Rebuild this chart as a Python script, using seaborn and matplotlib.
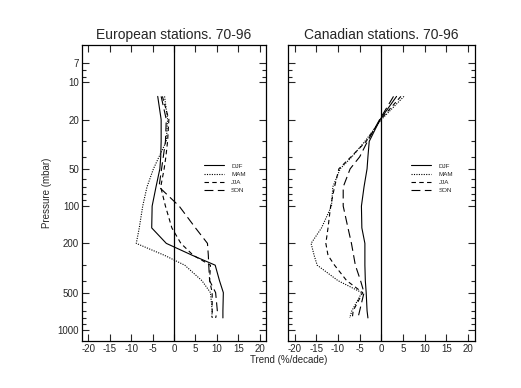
import matplotlib
matplotlib.use("Agg")
import matplotlib.pyplot as plt
import matplotlib.ticker as mticker
import numpy as np
import pandas as pd
import seaborn as sns

# pressure levels (mbar) shared by all profiles
pressure = [13, 20, 30, 40, 50, 70, 100, 150, 200, 250, 300, 400, 500, 700, 800]
seasons = ['DJF', 'MAM', 'JJA', 'SON']

# European stations, trend in %/decade
eu_djf = [-3.8, -3.0, -3.0, -3.1, -3.3, -4.2, -5.1, -5.2, -1.8, 4.3, 9.6, 10.6, 11.5, 11.4, 11.4]
eu_mam = [-2.2, -1.5, -1.8, -3.5, -4.8, -6.3, -7.3, -8.1, -8.8, -2.2, 2.5, 6.5, 8.5, 8.9, 8.8]
eu_jja = [-2.7, -1.2, -1.5, -1.9, -2.3, -3.1, -2.0, -0.5, 1.6, 4.5, 8.5, 8.3, 8.9, 8.9, 8.9]
eu_son = [-3.0, -1.8, -2.0, -2.5, -2.9, -3.5, 1.2, 5.0, 7.8, 8.0, 8.1, 8.3, 9.7, 10.1, 9.7]

# Canadian stations
ca_djf = [3.5, -0.3, -2.8, -3.1, -3.3, -4.0, -4.6, -4.5, -3.8, -3.8, -3.8, -3.7, -3.5, -3.3, -3.1]
ca_mam = [5.2, 0.0, -3.8, -6.8, -9.5, -11.2, -11.5, -13.8, -16.2, -15.5, -14.8, -10.0, -4.5, -6.8, -7.3]
ca_jja = [4.5, -0.2, -3.5, -7.0, -9.8, -10.8, -11.7, -12.3, -12.8, -12.3, -10.8, -8.0, -4.3, -6.5, -6.7]
ca_son = [2.8, -0.4, -3.2, -5.0, -7.2, -8.8, -8.8, -7.7, -6.9, -6.4, -6.0, -4.8, -4.0, -5.0, -5.4]

panels = [
    ('European stations. 70-96', [eu_djf, eu_mam, eu_jja, eu_son]),
    ('Canadian stations. 70-96', [ca_djf, ca_mam, ca_jja, ca_son]),
]

sns.set_style('ticks')
plt.rcParams['font.family'] = ['Liberation Sans', 'DejaVu Sans']
plt.rcParams['xtick.direction'] = 'in'
plt.rcParams['ytick.direction'] = 'in'
plt.rcParams['axes.unicode_minus'] = False

dashes = {'DJF': '', 'MAM': (1, 1.2), 'JJA': (4, 3), 'SON': (8, 4)}

fig = plt.figure(figsize=(5.21, 3.88), dpi=100)
ax1 = fig.add_axes([0.157, 0.121, 0.354, 0.763])
ax2 = fig.add_axes([0.553, 0.121, 0.358, 0.763])

for ax, (title, series) in zip([ax1, ax2], panels):
    df = pd.concat([
        pd.DataFrame({'trend': vals, 'pressure': pressure, 'season': s})
        for s, vals in zip(seasons, series)
    ])
    ax.axvline(0, color='black', lw=0.9)
    sns.lineplot(data=df, x='trend', y='pressure', style='season', orient='y',
                 sort=False, estimator=None, dashes=dashes, color='black',
                 lw=0.8, ax=ax)
    ax.set_yscale('log')
    ax.set_ylim(1230, 5)
    ax.set_xlim(-21.5, 21.5)
    ax.set_xticks(np.arange(-20, 21, 5))
    ax.yaxis.set_major_locator(mticker.FixedLocator([7, 10, 20, 50, 100, 200, 500, 1000]))
    ax.yaxis.set_minor_locator(mticker.FixedLocator(
        [8, 9, 30, 40, 60, 70, 80, 90, 300, 400, 600, 700, 800, 900]))
    ax.yaxis.set_major_formatter(mticker.FormatStrFormatter('%d'))
    ax.yaxis.set_minor_formatter(mticker.NullFormatter())
    ax.tick_params(which='both', top=True, right=True, labelsize=7, width=0.8, pad=2)
    ax.tick_params(which='major', length=5)
    ax.tick_params(which='minor', length=3)
    for sp in ax.spines.values():
        sp.set_linewidth(0.9)
        sp.set_color('black')
    ax.set_xlabel('')
    ax.set_ylabel('')
    ax.set_title(title, fontsize=10, pad=4)
    sns.move_legend(ax, 'upper left', bbox_to_anchor=(0.63, 0.62), frameon=False,
                    fontsize=4.5, title=None, handlelength=3.2, labelspacing=0.45,
                    handletextpad=1.2)

ax2.set_yticklabels([])
ax1.set_ylabel('Pressure (mbar)', fontsize=7, labelpad=4)
fig.text(0.555, 0.072, 'Trend (%/decade)', ha='center', va='center', fontsize=7)

fig.savefig('out.png', dpi=100)
